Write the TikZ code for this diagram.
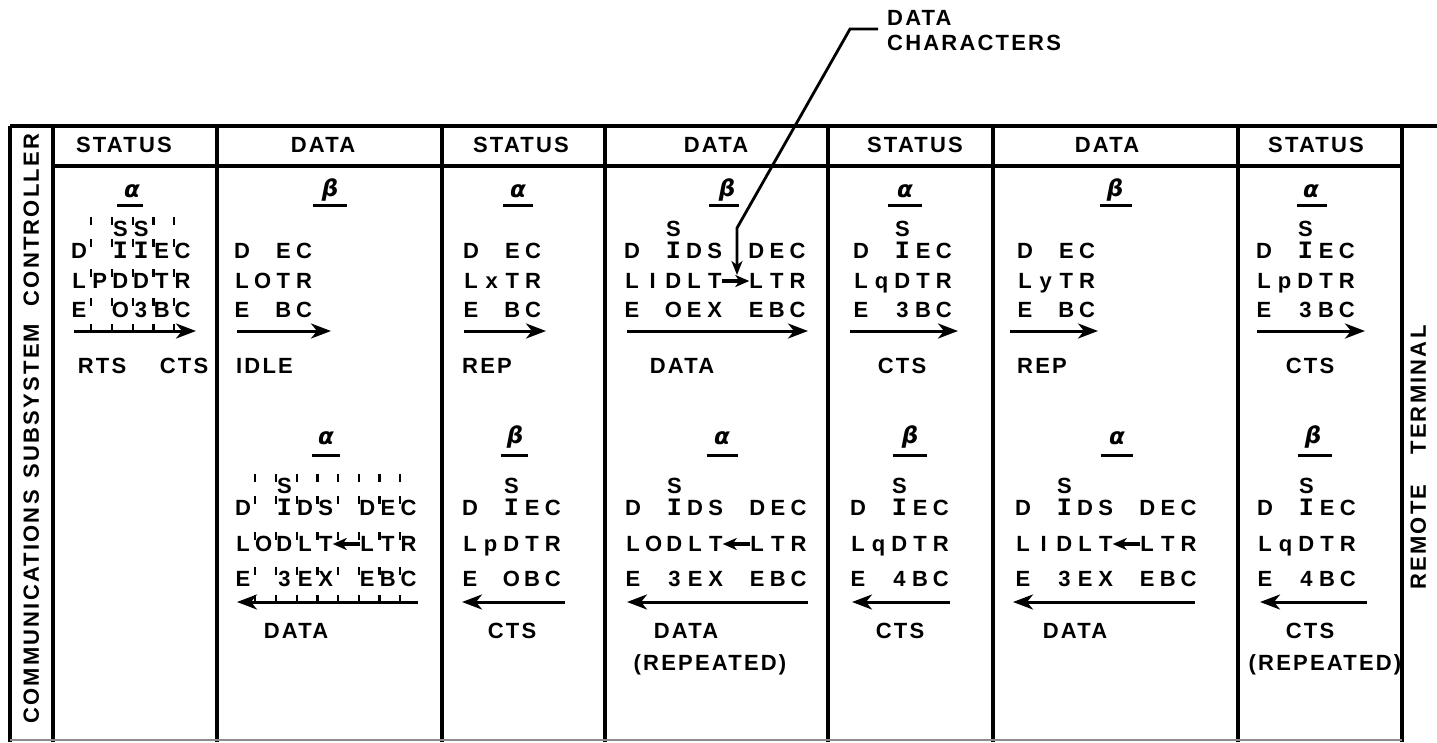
\documentclass[tikz,border=0pt]{standalone}
\usepackage{fontspec}
\setmainfont{Liberation Sans}
\newfontfamily\labf{Liberation Sans}[LetterSpace=10]
\newfontfamily\chf{Liberation Sans}
\newfontfamily\monof{Liberation Mono}
\newfontfamily\grkf{DejaVu Sans}
\usetikzlibrary{arrows.meta}
\newcommand\Is{{\monof\bfseries\fontsize{25}{25}\selectfont I}}
\newcommand\crow[4]{\foreach \c [count=\i] in {#4}{\node[ch] (#1-\i) at ({#2+(\i-1)*20.7},#3) {\c};}}
\newcommand\tickset[3]{\foreach \k in {1,...,#2}{\foreach \yy in {#3}{\draw[tick] ({#1+(\k-0.5)*20.7+2},\yy-12) -- ++(0,8);}}}
\tikzset{
 tbl/.style={line width=3.2pt},
 ch/.style={inner sep=0pt, text height=15.7pt, text depth=0pt, font=\chf\bfseries\fontsize{22}{22}\selectfont},
 lab/.style={inner sep=0pt, text height=15.7pt, text depth=0pt, font=\labf\bfseries\fontsize{22}{22}\selectfont},
 grk/.style={inner sep=0pt, font=\grkf\bfseries\itshape\fontsize{23}{23}\selectfont},
 bar/.style={line width=3pt},
 flow/.style={line width=3pt, -{Stealth[length=20pt,width=15pt,inset=6pt]}},
 sarrow/.style={line width=3.4pt, -{Stealth[length=14pt,width=12pt,inset=4pt]}},
 tick/.style={line width=2.2pt},
}
\begin{document}
\begin{tikzpicture}[x=1pt,y=-1pt]
\useasboundingbox (0,0) rectangle (1437,742);
% table
\draw[tbl] (10,126) -- (1437,126);
\draw[tbl] (53,166) -- (1402,166);
\foreach \x in {10,53,217,442,605,828,993,1238,1402}{\draw[tbl] (\x,126) -- (\x,742);}
\draw[line width=1.4pt, black!45] (10,740) -- (1402,740);
% side labels
\node[lab, rotate=90] (cl1) at (31,607) {COMMUNICATIONS};
\node[lab, rotate=90] (cl2) at (31,401) {SUBSYSTEM};
\node[lab, rotate=90] (cl3) at (31,220) {CONTROLLER};
\node[lab, rotate=90] (rt1) at (1418,537) {REMOTE};
\node[lab, rotate=90] (rt2) at (1418,390) {TERMINAL};
% headers
\node[lab] (h1) at (124,145) {STATUS};
\node[lab] (h2) at (323,145) {DATA};
\node[lab] (h3) at (521,145) {STATUS};
\node[lab] (h4) at (716,145) {DATA};
\node[lab] (h5) at (915,145) {STATUS};
\node[lab] (h6) at (1107,145) {DATA};
\node[lab] (h7) at (1316,145) {STATUS};
% leader
\node[lab, anchor=west] (dc1) at (887,18) {DATA};
\node[lab, anchor=west] (dc2) at (887,43) {CHARACTERS};
\coordinate (l0) at (878,29);
\coordinate (l1) at (850,29);
\coordinate (l2) at (737,228);
\coordinate (l3) at (737,275);
\draw[line width=2.8pt, -{Stealth[length=14pt,width=11pt,inset=4pt]}] (l0) -- (l1) -- (l2) -- (l3);

% ---------------- top blocks ----------------
% T1
\node[grk] (gt1) at (132,191) {α}; \draw[bar] (117,205) -- (143,205);
\crow{t1s}{79}{229}{{},{},S,S,{},{}}
\crow{t1a}{79}{251}{D,{},\Is,\Is,E,C}
\crow{t1b}{79}{281}{L,P,D,D,T,R}
\crow{t1c}{79}{310}{E,{},O,3,B,C}
\tickset{79}{5}{229,251,281,310,336}
\coordinate (a1s) at (74,331); \coordinate (a1e) at (196,331);
\draw[flow] (a1s) -- (a1e);
\node[lab] (lt1a) at (102,366) {RTS};
\node[lab] (lt1b) at (184,366) {CTS};
% T2
\node[grk] (gt2) at (330,190) {β}; \draw[bar] (313,205) -- (347,205);
\crow{t2a}{242}{251}{D,{},E,C}
\crow{t2b}{242}{281}{L,O,T,R}
\crow{t2c}{242}{310}{E,{},B,C}
\coordinate (a2s) at (237,331); \coordinate (a2e) at (331,331);
\draw[flow] (a2s) -- (a2e);
\node[lab, anchor=west] (lt2) at (236,366) {IDLE};
% T3
\node[grk] (gt3) at (518,191) {α}; \draw[bar] (503,205) -- (533,205);
\crow{t3a}{471}{251}{D,{},E,C}
\crow{t3b}{471}{281}{L,x,T,R}
\crow{t3c}{471}{310}{E,{},B,C}
\coordinate (a3s) at (464,331); \coordinate (a3e) at (546,331);
\draw[flow] (a3s) -- (a3e);
\node[lab, anchor=west] (lt3) at (462,366) {REP};
% T4
\node[grk] (gt4) at (727,190) {β}; \draw[bar] (709,205) -- (739,205);
\crow{t4s}{632}{229}{{},{},S,{},{},{},{},{},{}}
\crow{t4a}{632}{251}{D,{},\Is,D,S,{},D,E,C}
\crow{t4b}{632}{281}{L,I,D,L,T,{},L,T,R}
\crow{t4c}{632}{310}{E,{},O,E,X,{},E,B,C}
\draw[sarrow] (t4b-5.east) -- (t4b-7.west);
\coordinate (a4s) at (627,331); \coordinate (a4e) at (808,331);
\draw[flow] (a4s) -- (a4e);
\node[lab] (lt4) at (682,366) {DATA};
% T5
\node[grk] (gt5) at (905,191) {α}; \draw[bar] (888,205) -- (922,205);
\crow{t5s}{861}{229}{{},{},S,{},{}}
\crow{t5a}{861}{251}{D,{},\Is,E,C}
\crow{t5b}{861}{281}{L,q,D,T,R}
\crow{t5c}{861}{310}{E,{},3,B,C}
\coordinate (a5s) at (850,331); \coordinate (a5e) at (958,331);
\draw[flow] (a5s) -- (a5e);
\node[lab] (lt5) at (902,366) {CTS};
% T6
\node[grk] (gt6) at (1115,190) {β}; \draw[bar] (1100,205) -- (1132,205);
\crow{t6a}{1025}{251}{D,{},E,C}
\crow{t6b}{1025}{281}{L,y,T,R}
\crow{t6c}{1025}{310}{E,{},B,C}
\coordinate (a6s) at (1010,331); \coordinate (a6e) at (1098,331);
\draw[flow] (a6s) -- (a6e);
\node[lab, anchor=west] (lt6) at (1017,366) {REP};
% T7
\node[grk] (gt7) at (1311,191) {α}; \draw[bar] (1297,205) -- (1327,205);
\crow{t7s}{1264}{229}{{},{},S,{},{}}
\crow{t7a}{1264}{251}{D,{},\Is,E,C}
\crow{t7b}{1264}{281}{L,p,D,T,R}
\crow{t7c}{1264}{310}{E,{},3,B,C}
\coordinate (a7s) at (1257,331); \coordinate (a7e) at (1365,331);
\draw[flow] (a7s) -- (a7e);
\node[lab] (lt7) at (1310,366) {CTS};

% ---------------- bottom blocks ----------------
% B2
\node[grk] (gb2) at (326,438) {α}; \draw[bar] (312,455) -- (340,455);
\crow{b2s}{243}{486}{{},{},S,{},{},{},{},{},{}}
\crow{b2a}{243}{508}{D,{},\Is,D,S,{},D,E,C}
\crow{b2b}{243}{544}{L,O,D,L,T,{},L,T,R}
\crow{b2c}{243}{579}{E,{},3,E,X,{},E,B,C}
\tickset{243}{8}{486,508,544,579,607}
\draw[sarrow] (b2b-7.west) -- (b2b-5.east);
\coordinate (b2s) at (418,602); \coordinate (b2e) at (237,602);
\draw[flow] (b2s) -- (b2e);
\node[lab] (lb2) at (296,631) {DATA};
% B3
\node[grk] (gb3) at (515,437) {β}; \draw[bar] (501,455) -- (528,455);
\crow{b3s}{470}{486}{{},{},S,{},{}}
\crow{b3a}{470}{508}{D,{},\Is,E,C}
\crow{b3b}{470}{544}{L,p,D,T,R}
\crow{b3c}{470}{579}{E,{},O,B,C}
\coordinate (b3s) at (565,602); \coordinate (b3e) at (462,602);
\draw[flow] (b3s) -- (b3e);
\node[lab] (lb3) at (512,631) {CTS};
% B4
\node[grk] (gb4) at (722,438) {α}; \draw[bar] (707,455) -- (738,455);
\crow{b4s}{633}{486}{{},{},S,{},{},{},{},{},{}}
\crow{b4a}{633}{508}{D,{},\Is,D,S,{},D,E,C}
\crow{b4b}{633}{544}{L,O,D,L,T,{},L,T,R}
\crow{b4c}{633}{579}{E,{},3,E,X,{},E,B,C}
\draw[sarrow] (b4b-7.west) -- (b4b-5.east);
\coordinate (b4s) at (808,602); \coordinate (b4e) at (627,602);
\draw[flow] (b4s) -- (b4e);
\node[lab] (lb4a) at (686,631) {DATA};
\node[lab] (lb4b) at (710,663) {(REPEATED)};
% B5
\node[grk] (gb5) at (910,437) {β}; \draw[bar] (893,455) -- (927,455);
\crow{b5s}{858}{486}{{},{},S,{},{}}
\crow{b5a}{858}{508}{D,{},\Is,E,C}
\crow{b5b}{858}{544}{L,q,D,T,R}
\crow{b5c}{858}{579}{E,{},4,B,C}
\coordinate (b5s) at (950,602); \coordinate (b5e) at (852,602);
\draw[flow] (b5s) -- (b5e);
\node[lab] (lb5) at (900,631) {CTS};
% B6
\node[grk] (gb6) at (1117,438) {α}; \draw[bar] (1101,455) -- (1133,455);
\crow{b6s}{1023}{486}{{},{},S,{},{},{},{},{},{}}
\crow{b6a}{1023}{508}{D,{},\Is,D,S,{},D,E,C}
\crow{b6b}{1023}{544}{L,I,D,L,T,{},L,T,R}
\crow{b6c}{1023}{579}{E,{},3,E,X,{},E,B,C}
\draw[sarrow] (b6b-7.west) -- (b6b-5.east);
\coordinate (b6s) at (1195,602); \coordinate (b6e) at (1013,602);
\draw[flow] (b6s) -- (b6e);
\node[lab] (lb6) at (1075,631) {DATA};
% B7
\node[grk] (gb7) at (1313,437) {β}; \draw[bar] (1298,455) -- (1332,455);
\crow{b7s}{1265}{486}{{},{},S,{},{}}
\crow{b7a}{1265}{508}{D,{},\Is,E,C}
\crow{b7b}{1265}{544}{L,q,D,T,R}
\crow{b7c}{1265}{579}{E,{},4,B,C}
\coordinate (b7s) at (1367,602); \coordinate (b7e) at (1260,602);
\draw[flow] (b7s) -- (b7e);
\node[lab] (lb7a) at (1310,631) {CTS};
\node[lab] (lb7b) at (1325,663) {(REPEATED)};
\end{tikzpicture}
\end{document}
